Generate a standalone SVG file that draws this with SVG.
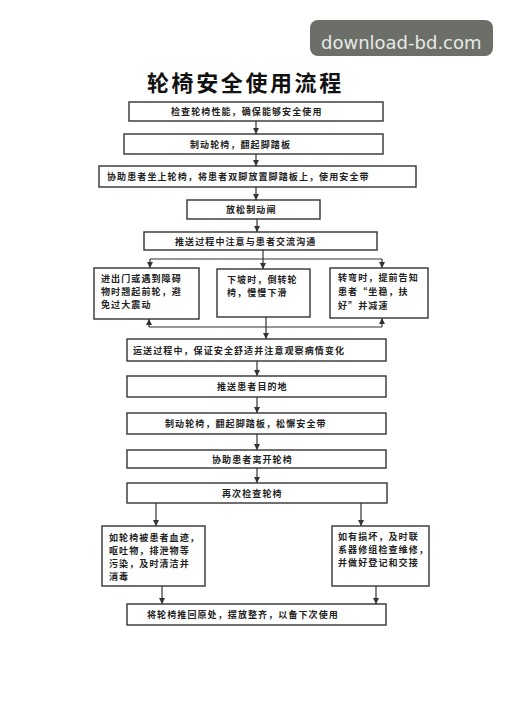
<svg xmlns="http://www.w3.org/2000/svg" width="513" height="727" viewBox="0 0 513 727">
<style>
.box{fill:#ffffff;stroke:#333;stroke-width:1.4}
.t{font-family:"Noto Sans CJK SC","Noto Sans",sans-serif;font-size:9px;fill:#222;letter-spacing:1.1px;font-weight:bold}
.c{fill:none;stroke:#333;stroke-width:1.2}
.title{font-family:"Noto Sans CJK SC","Noto Sans",sans-serif;font-size:22px;fill:#111;letter-spacing:2.6px;font-weight:bold}
</style>
<defs>
<marker id="ah" markerWidth="6" markerHeight="6" refX="6" refY="3" orient="auto" markerUnits="userSpaceOnUse">
<path d="M0,0 L6,3 L0,6 z" fill="#333"/>
</marker>
</defs>
<rect width="513" height="727" fill="#ffffff"/>
<g id="watermark">
<rect x="310" y="20" width="183" height="36" rx="8" fill="#6b6f68"/>
<text x="321" y="49" font-family="DejaVu Sans,sans-serif" font-size="18" fill="#e6eae6">download-bd.com</text>
</g>
<text class="title" x="147" y="91">轮椅安全使用流程</text>
<g id="connectors">
<line class="c" x1="256" y1="121" x2="256" y2="134" marker-end="url(#ah)"/>
<line class="c" x1="256" y1="154" x2="256" y2="166" marker-end="url(#ah)"/>
<line class="c" x1="256" y1="187" x2="256" y2="200" marker-end="url(#ah)"/>
<line class="c" x1="257" y1="219" x2="257" y2="232" marker-end="url(#ah)"/>
<polyline class="c" points="263,250 263,259"/>
<line class="c" x1="150" y1="259" x2="382" y2="259"/>
<line class="c" x1="150" y1="259" x2="150" y2="268" marker-end="url(#ah)"/>
<line class="c" x1="263" y1="259" x2="263" y2="269" marker-end="url(#ah)"/>
<line class="c" x1="382" y1="259" x2="382" y2="268" marker-end="url(#ah)"/>
<line class="c" x1="149" y1="327" x2="382" y2="327"/>
<line class="c" x1="149" y1="327" x2="149" y2="319" marker-end="url(#ah)"/>
<line class="c" x1="382" y1="327" x2="382" y2="318" marker-end="url(#ah)"/>
<line class="c" x1="266" y1="317" x2="266" y2="339" marker-end="url(#ah)"/>
<line class="c" x1="257" y1="361" x2="257" y2="376" marker-end="url(#ah)"/>
<line class="c" x1="257" y1="397" x2="257" y2="413" marker-end="url(#ah)"/>
<line class="c" x1="257" y1="434" x2="257" y2="450" marker-end="url(#ah)"/>
<line class="c" x1="257" y1="468" x2="257" y2="483" marker-end="url(#ah)"/>
<line class="c" x1="156" y1="503" x2="156" y2="526" marker-end="url(#ah)"/>
<line class="c" x1="361" y1="503" x2="361" y2="526" marker-end="url(#ah)"/>
<line class="c" x1="162" y1="586" x2="162" y2="604" marker-end="url(#ah)"/>
<line class="c" x1="376" y1="586" x2="376" y2="604" marker-end="url(#ah)"/>
</g>
<g id="n1"><rect class="box" x="129" y="102" width="254" height="19"/><text class="t" x="171" y="115">检查轮椅性能，确保能够安全使用</text></g>
<g id="n2"><rect class="box" x="124" y="134" width="259" height="20"/><text class="t" x="190" y="147.5">制动轮椅，翻起脚踏板</text></g>
<g id="n3"><rect class="box" x="99" y="166" width="317" height="21"/><text class="t" x="107" y="180">协助患者坐上轮椅，将患者双脚放置脚踏板上，使用安全带</text></g>
<g id="n4"><rect class="box" x="187" y="200" width="133" height="19"/><text class="t" x="226" y="213">放松制动闸</text></g>
<g id="n5"><rect class="box" x="144" y="232" width="233" height="18"/><text class="t" x="175" y="244.5">推送过程中注意与患者交流沟通</text></g>
<g id="n6"><rect class="box" x="94" y="268" width="105" height="51"/>
<text class="t" x="101" y="282">进出门或遇到障碍</text>
<text class="t" x="101" y="295">物时翘起前轮，避</text>
<text class="t" x="101" y="308">免过大震动</text></g>
<g id="n7"><rect class="box" x="217" y="269" width="93" height="48"/>
<text class="t" x="227" y="283">下坡时，倒转轮</text>
<text class="t" x="227" y="296">椅，慢慢下滑</text></g>
<g id="n8"><rect class="box" x="330" y="268" width="98" height="50"/>
<text class="t" x="338" y="281">转弯时，提前告知</text>
<text class="t" x="338" y="295">患者“坐稳，扶</text>
<text class="t" x="338" y="309">好”并减速</text></g>
<g id="n9"><rect class="box" x="127" y="339" width="259" height="22"/><text class="t" x="133" y="353.5">运送过程中，保证安全舒适并注意观察病情变化</text></g>
<g id="n10"><rect class="box" x="127" y="376" width="259" height="21"/><text class="t" x="217" y="390">推送患者目的地</text></g>
<g id="n11"><rect class="box" x="127" y="413" width="259" height="21"/><text class="t" x="165" y="427">制动轮椅，翻起脚踏板，松懈安全带</text></g>
<g id="n12"><rect class="box" x="127" y="450" width="259" height="18"/><text class="t" x="212" y="462.5">协助患者离开轮椅</text></g>
<g id="n13"><rect class="box" x="127" y="483" width="260" height="20"/><text class="t" x="222" y="496.5">再次检查轮椅</text></g>
<g id="n14"><rect class="box" x="102" y="526" width="103" height="60"/>
<text class="t" x="109" y="541">如轮椅被患者血迹，</text>
<text class="t" x="109" y="554">呕吐物，排泄物等</text>
<text class="t" x="109" y="567">污染，及时清洁并</text>
<text class="t" x="109" y="580">消毒</text></g>
<g id="n15"><rect class="box" x="332" y="526" width="97" height="60"/>
<text class="t" x="338" y="540">如有损坏，及时联</text>
<text class="t" x="338" y="553">系器修组检查维修，</text>
<text class="t" x="338" y="566">并做好登记和交接</text></g>
<g id="n16"><rect class="box" x="127" y="604" width="259" height="21"/><text class="t" x="147" y="618">将轮椅推回原处，摆放整齐，以备下次使用</text></g>
</svg>
